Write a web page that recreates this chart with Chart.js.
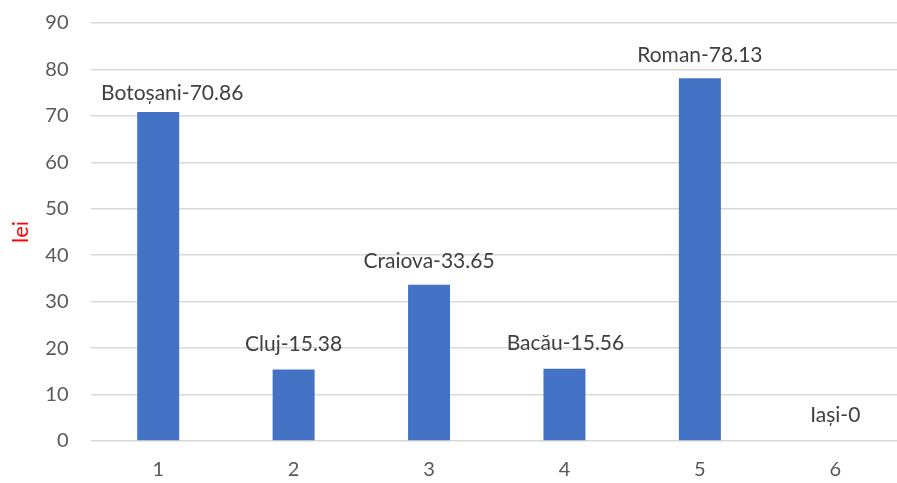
<!DOCTYPE html>
<html>
<head>
<meta charset="utf-8">
<script src="https://cdn.jsdelivr.net/npm/chart.js@4/dist/chart.umd.min.js"></script>
<style>
html,body{margin:0;padding:0;background:#fff;overflow:hidden;}
#wrap{width:905px;height:483px;}
</style>
</head>
<body>
<div id="wrap"><canvas id="c" width="905" height="483"></canvas></div>
<script>
const categories = ["1", "2", "3", "4", "5", "6"];
const cities = ["Botoșani", "Cluj", "Craiova", "Bacău", "Roman", "Iași"];
const values = [70.86, 15.38, 33.65, 15.56, 78.13, 0];
const labelTexts = ["Botoșani-70.86", "Cluj-15.38", "Craiova-33.65", "Bacău-15.56", "Roman-78.13", "Iași-0"];

const FONT = "Lato, 'Open Sans', sans-serif";

// label placement tweaks (style only): horizontal shift and gap above bar top
const LABEL_DX = [14, 0, 0, 1, 0, 0];
const LABEL_GAP = [12, 19, 17, 19, 16, 19];

const labelPlugin = {
  id: 'barLabels',
  afterDatasetsDraw(chart) {
    const ctx = chart.ctx;
    const meta = chart.getDatasetMeta(0);
    ctx.save();
    ctx.font = "21px " + FONT;
    ctx.fillStyle = "#404040";
    ctx.textAlign = "center";
    ctx.textBaseline = "alphabetic";
    meta.data.forEach((bar, i) => {
      ctx.fillText(labelTexts[i], bar.x + LABEL_DX[i], bar.y - LABEL_GAP[i]);
    });
    ctx.restore();
  }
};

new Chart(document.getElementById('c'), {
  type: 'bar',
  data: {
    labels: categories,
    datasets: [{
      data: values,
      backgroundColor: '#4472C4',
      borderWidth: 0,
      barPercentage: 0.62,
      categoryPercentage: 0.5
    }]
  },
  options: {
    responsive: false,
    animation: false,
    layout: { padding: { top: 23, right: 2, left: 0, bottom: 0 } },
    plugins: { legend: { display: false }, tooltip: { enabled: false } },
    scales: {
      x: {
        grid: { display: false, drawTicks: false },
        border: { display: false },
        ticks: { color: '#595959', font: { size: 20, family: FONT }, padding: 17 },
        afterFit(s) { s.height = 42; s.paddingLeft = 0; s.paddingRight = 0; }
      },
      y: {
        min: 0, max: 90,
        ticks: { stepSize: 10, color: '#595959', font: { size: 20, family: FONT }, padding: 22 },
        grid: { color: '#d9d9d9', lineWidth: 1.5, drawTicks: false },
        border: { display: false },
        title: { display: true, text: 'lei', color: '#ff0000', font: { size: 22, family: FONT }, padding: { top: 8, bottom: 0 } },
        afterFit(s) { s.width = 90.5; s.paddingTop = 0; s.paddingBottom = 0; }
      }
    }
  },
  plugins: [labelPlugin]
});
</script>
</body>
</html>
